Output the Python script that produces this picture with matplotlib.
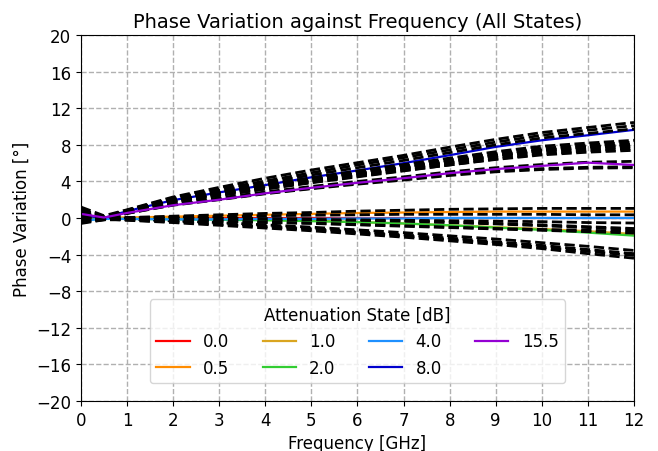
import matplotlib
matplotlib.use("Agg")
import matplotlib.pyplot as plt

# frequency points [GHz]
freq = [0, 0.5, 1, 2, 3, 4, 5, 6, 7, 8, 9, 10, 11, 12]

# phase variation [deg] per attenuation state
ph_0_0 = [0, 0, 0, 0, 0, 0, 0, 0, 0, 0, 0, 0, 0, 0]
ph_0_5 = [0.1, 0.0, 0.05, 0.15, 0.25, 0.35, 0.45, 0.55, 0.6, 0.65, 0.7, 0.7, 0.7, 0.7]
ph_1_0 = [0.2, 0.0, 0.0, -0.05, -0.1, -0.2, -0.3, -0.45, -0.6, -0.8, -1.0, -1.2, -1.45, -1.75]
ph_1_5 = [0.4, 0.05, 0.05, 0.05, 0.0, -0.05, -0.1, -0.2, -0.3, -0.45, -0.6, -0.75, -0.95, -1.15]
ph_2_0 = [-0.2, -0.1, -0.1, -0.15, -0.2, -0.25, -0.35, -0.45, -0.6, -0.8, -1.05, -1.3, -1.6, -1.93]
ph_2_5 = [0.0, -0.05, -0.05, -0.05, -0.1, -0.15, -0.2, -0.25, -0.35, -0.5, -0.65, -0.85, -1.05, -1.25]
ph_3_0 = [0.6, 0.0, -0.15, -0.35, -0.6, -0.85, -1.15, -1.5, -1.85, -2.2, -2.6, -3.0, -3.45, -3.9]
ph_3_5 = [1.0, 0.1, -0.1, -0.3, -0.5, -0.75, -1.0, -1.3, -1.6, -1.95, -2.3, -2.7, -3.1, -3.55]
ph_4_0 = [-0.3, -0.1, -0.1, -0.15, -0.15, -0.1, -0.1, -0.05, -0.05, 0.0, 0.0, 0.0, 0.0, 0.0]
ph_4_5 = [0.3, 0.0, 0.05, 0.2, 0.35, 0.5, 0.6, 0.75, 0.85, 0.95, 1.0, 1.05, 1.05, 1.05]
ph_5_0 = [-0.5, -0.15, -0.15, -0.25, -0.35, -0.45, -0.55, -0.7, -0.85, -1.0, -1.15, -1.25, -1.35, -1.45]
ph_5_5 = [0.8, 0.05, 0.0, 0.1, 0.15, 0.25, 0.3, 0.35, 0.4, 0.4, 0.4, 0.4, 0.35, 0.35]
ph_6_0 = [-0.6, -0.2, -0.2, -0.3, -0.4, -0.5, -0.6, -0.75, -0.9, -1.05, -1.2, -1.35, -1.5, -1.65]
ph_6_5 = [0.2, -0.05, -0.05, -0.05, -0.1, -0.1, -0.15, -0.2, -0.25, -0.3, -0.35, -0.4, -0.5, -0.55]
ph_7_0 = [-0.4, -0.1, -0.25, -0.5, -0.8, -1.1, -1.4, -1.75, -2.1, -2.5, -2.9, -3.35, -3.9, -4.4]
ph_7_5 = [0.1, -0.05, -0.2, -0.45, -0.7, -0.95, -1.25, -1.6, -1.95, -2.35, -2.75, -3.2, -3.65, -4.1]
ph_8_0 = [0.3, 0.0, 0.75, 1.95, 2.8, 3.6, 4.45, 5.2, 6.0, 6.87, 7.78, 8.5, 9.05, 9.64]
ph_8_5 = [1.2, 0.25, 0.9, 2.3, 3.35, 4.35, 5.25, 6.05, 6.85, 7.75, 8.6, 9.35, 9.9, 10.45]
ph_9_0 = [0.0, -0.1, 0.7, 1.85, 2.65, 3.4, 4.15, 4.85, 5.55, 6.2, 6.9, 7.45, 7.8, 8.1]
ph_9_5 = [0.6, 0.0, 0.8, 2.0, 2.85, 3.65, 4.4, 5.15, 5.85, 6.55, 7.25, 7.85, 8.2, 8.5]
ph_10_0 = [-0.2, -0.1, 0.65, 1.8, 2.55, 3.3, 4.0, 4.7, 5.35, 6.0, 6.65, 7.2, 7.5, 7.8]
ph_10_5 = [0.4, 0.0, 0.75, 1.95, 2.75, 3.5, 4.25, 5.0, 5.7, 6.35, 7.05, 7.6, 8.0, 8.3]
ph_11_0 = [0.0, -0.1, 0.5, 1.45, 2.05, 2.7, 3.25, 3.8, 4.25, 4.75, 5.15, 5.4, 5.55, 5.6]
ph_11_5 = [0.7, 0.05, 0.6, 1.55, 2.2, 2.85, 3.45, 4.0, 4.5, 5.05, 5.5, 5.85, 6.1, 6.2]
ph_12_0 = [0.5, 0.05, 0.8, 2.1, 3.0, 3.85, 4.7, 5.5, 6.3, 7.15, 8.0, 8.75, 9.25, 9.75]
ph_12_5 = [0.9, 0.15, 0.85, 2.2, 3.15, 4.05, 4.95, 5.8, 6.6, 7.45, 8.3, 9.05, 9.6, 10.1]
ph_13_0 = [-0.3, -0.15, 0.6, 1.75, 2.5, 3.2, 3.9, 4.55, 5.2, 5.8, 6.4, 6.9, 7.2, 7.4]
ph_13_5 = [0.2, -0.05, 0.7, 1.9, 2.7, 3.45, 4.15, 4.85, 5.5, 6.15, 6.8, 7.35, 7.7, 7.9]
ph_14_0 = [-0.5, -0.2, 0.55, 1.7, 2.45, 3.15, 3.85, 4.5, 5.15, 5.8, 6.45, 7.0, 7.35, 7.6]
ph_14_5 = [0.1, -0.05, 0.65, 1.85, 2.65, 3.4, 4.1, 4.8, 5.45, 6.1, 6.8, 7.4, 7.8, 8.0]
ph_15_0 = [-0.4, -0.1, 0.5, 1.4, 2.0, 2.65, 3.2, 3.7, 4.15, 4.65, 5.05, 5.3, 5.45, 5.5]
ph_15_5 = [0.45, 0.05, 0.55, 1.4, 2.0, 2.7, 3.3, 3.85, 4.35, 4.9, 5.35, 5.7, 6.05, 5.8]

states = [0.0, 0.5, 1.0, 1.5, 2.0, 2.5, 3.0, 3.5, 4.0, 4.5, 5.0, 5.5, 6.0, 6.5, 7.0, 7.5,
          8.0, 8.5, 9.0, 9.5, 10.0, 10.5, 11.0, 11.5, 12.0, 12.5, 13.0, 13.5, 14.0, 14.5, 15.0, 15.5]
phases = [ph_0_0, ph_0_5, ph_1_0, ph_1_5, ph_2_0, ph_2_5, ph_3_0, ph_3_5,
          ph_4_0, ph_4_5, ph_5_0, ph_5_5, ph_6_0, ph_6_5, ph_7_0, ph_7_5,
          ph_8_0, ph_8_5, ph_9_0, ph_9_5, ph_10_0, ph_10_5, ph_11_0, ph_11_5,
          ph_12_0, ph_12_5, ph_13_0, ph_13_5, ph_14_0, ph_14_5, ph_15_0, ph_15_5]

# highlighted states
key_states = [0.0, 0.5, 1.0, 2.0, 4.0, 8.0, 15.5]
key_colors = ["red", "darkorange", "goldenrod", "limegreen", "dodgerblue", "mediumblue", "darkviolet"]

fig = plt.figure(figsize=(6.58, 4.52), dpi=100)
ax = fig.add_axes([0.123, 0.111, 0.8405, 0.809])

for s, p in zip(states, phases):
    if s in key_states:
        c = key_colors[key_states.index(s)]
        ax.plot(freq, p, color=c, lw=1.6, label=f"{s:.1f}")
    else:
        ax.plot(freq, p, color="black", ls="--", lw=2.0)

ax.set_xlim(0, 12)
ax.set_ylim(-20, 20)
ax.set_xticks(range(0, 13))
ax.set_yticks(range(-20, 21, 4))
ax.tick_params(labelsize=12)
ax.grid(True, ls="--", color="#b0b0b0", lw=1)
ax.set_title("Phase Variation against Frequency (All States)", fontsize=14)
ax.set_xlabel("Frequency [GHz]", fontsize=12)
ax.set_ylabel("Phase Variation [°]", fontsize=12)
ax.legend(title="Attenuation State [dB]", ncol=4, loc="lower center",
          bbox_to_anchor=(0.5, 0.025), fontsize=12, title_fontsize=12)

plt.savefig("out.png", dpi=100)
